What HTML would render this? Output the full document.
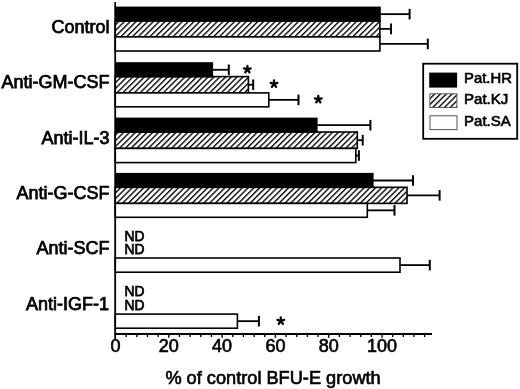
<!DOCTYPE html><html><head><meta charset="utf-8"><style>
html,body{margin:0;padding:0;background:#fff;width:520px;height:389px;overflow:hidden}
svg{display:block;filter:grayscale(1)}
text{font-family:"Liberation Sans",sans-serif;fill:#000;stroke:#000}
</style></head><body>
<svg width="520" height="389" viewBox="0 0 520 389">
<defs><pattern id="h" patternUnits="userSpaceOnUse" width="4.1" height="10" patternTransform="rotate(45)"><rect x="0" y="0" width="1.35" height="10" fill="#000"/></pattern></defs>
<rect width="520" height="389" fill="#fff"/>
<rect x="115.20" y="6.60" width="265.60" height="15.10" fill="#000"/>
<line x1="380.00" y1="14.15" x2="409.60" y2="14.15" stroke="#000" stroke-width="1.8"/>
<line x1="409.60" y1="8.85" x2="409.60" y2="19.45" stroke="#000" stroke-width="2"/>
<rect x="115.20" y="20.90" width="264.70" height="16.00" fill="url(#h)" stroke="#000" stroke-width="1.6"/>
<line x1="379.90" y1="28.90" x2="391.00" y2="28.90" stroke="#000" stroke-width="1.8"/>
<line x1="391.00" y1="23.60" x2="391.00" y2="34.20" stroke="#000" stroke-width="2"/>
<rect x="115.20" y="36.90" width="264.70" height="14.10" fill="#fff" stroke="#000" stroke-width="1.6"/>
<line x1="379.90" y1="43.95" x2="427.80" y2="43.95" stroke="#000" stroke-width="1.8"/>
<line x1="427.80" y1="38.65" x2="427.80" y2="49.25" stroke="#000" stroke-width="2"/>
<rect x="115.20" y="62.20" width="97.90" height="15.20" fill="#000"/>
<line x1="212.30" y1="69.80" x2="228.80" y2="69.80" stroke="#000" stroke-width="1.8"/>
<line x1="228.80" y1="64.50" x2="228.80" y2="75.10" stroke="#000" stroke-width="2"/>
<rect x="115.20" y="76.60" width="133.20" height="16.30" fill="url(#h)" stroke="#000" stroke-width="1.6"/>
<line x1="248.40" y1="84.75" x2="253.20" y2="84.75" stroke="#000" stroke-width="1.8"/>
<line x1="253.20" y1="79.45" x2="253.20" y2="90.05" stroke="#000" stroke-width="2"/>
<rect x="115.20" y="92.90" width="153.60" height="13.90" fill="#fff" stroke="#000" stroke-width="1.6"/>
<line x1="268.80" y1="99.85" x2="298.50" y2="99.85" stroke="#000" stroke-width="1.8"/>
<line x1="298.50" y1="94.55" x2="298.50" y2="105.15" stroke="#000" stroke-width="2"/>
<rect x="115.20" y="117.60" width="202.40" height="15.20" fill="#000"/>
<line x1="316.80" y1="125.20" x2="370.40" y2="125.20" stroke="#000" stroke-width="1.8"/>
<line x1="370.40" y1="119.90" x2="370.40" y2="130.50" stroke="#000" stroke-width="2"/>
<rect x="115.20" y="132.00" width="242.10" height="16.40" fill="url(#h)" stroke="#000" stroke-width="1.6"/>
<line x1="357.30" y1="140.20" x2="362.70" y2="140.20" stroke="#000" stroke-width="1.8"/>
<line x1="362.70" y1="134.90" x2="362.70" y2="145.50" stroke="#000" stroke-width="2"/>
<rect x="115.20" y="148.40" width="240.60" height="14.20" fill="#fff" stroke="#000" stroke-width="1.6"/>
<line x1="355.80" y1="155.50" x2="358.90" y2="155.50" stroke="#000" stroke-width="1.8"/>
<line x1="358.90" y1="150.20" x2="358.90" y2="160.80" stroke="#000" stroke-width="2"/>
<rect x="115.20" y="172.90" width="258.40" height="15.20" fill="#000"/>
<line x1="372.80" y1="180.50" x2="413.00" y2="180.50" stroke="#000" stroke-width="1.8"/>
<line x1="413.00" y1="175.20" x2="413.00" y2="185.80" stroke="#000" stroke-width="2"/>
<rect x="115.20" y="187.30" width="291.80" height="16.10" fill="url(#h)" stroke="#000" stroke-width="1.6"/>
<line x1="407.00" y1="195.35" x2="439.60" y2="195.35" stroke="#000" stroke-width="1.8"/>
<line x1="439.60" y1="190.05" x2="439.60" y2="200.65" stroke="#000" stroke-width="2"/>
<rect x="115.20" y="203.40" width="252.10" height="13.90" fill="#fff" stroke="#000" stroke-width="1.6"/>
<line x1="367.30" y1="210.35" x2="394.50" y2="210.35" stroke="#000" stroke-width="1.8"/>
<line x1="394.50" y1="205.05" x2="394.50" y2="215.65" stroke="#000" stroke-width="2"/>
<rect x="115.20" y="258.00" width="284.80" height="14.20" fill="#fff" stroke="#000" stroke-width="1.6"/>
<line x1="400.00" y1="265.10" x2="429.80" y2="265.10" stroke="#000" stroke-width="1.8"/>
<line x1="429.80" y1="259.80" x2="429.80" y2="270.40" stroke="#000" stroke-width="2"/>
<rect x="115.20" y="314.10" width="122.20" height="14.10" fill="#fff" stroke="#000" stroke-width="1.6"/>
<line x1="237.40" y1="321.15" x2="258.90" y2="321.15" stroke="#000" stroke-width="1.8"/>
<line x1="258.90" y1="315.85" x2="258.90" y2="326.45" stroke="#000" stroke-width="2"/>
<line x1="115.2" y1="2" x2="115.2" y2="339" stroke="#000" stroke-width="1.8"/>
<line x1="114.4" y1="334.0" x2="432" y2="334.0" stroke="#000" stroke-width="1.8"/>
<line x1="126.16" y1="334.0" x2="126.16" y2="337.00" stroke="#000" stroke-width="1.4"/>
<line x1="136.82" y1="334.0" x2="136.82" y2="337.00" stroke="#000" stroke-width="1.4"/>
<line x1="147.48" y1="334.0" x2="147.48" y2="337.00" stroke="#000" stroke-width="1.4"/>
<line x1="158.14" y1="334.0" x2="158.14" y2="337.00" stroke="#000" stroke-width="1.4"/>
<line x1="168.80" y1="334.0" x2="168.80" y2="337.80" stroke="#000" stroke-width="1.4"/>
<line x1="179.46" y1="334.0" x2="179.46" y2="337.00" stroke="#000" stroke-width="1.4"/>
<line x1="190.12" y1="334.0" x2="190.12" y2="337.00" stroke="#000" stroke-width="1.4"/>
<line x1="200.78" y1="334.0" x2="200.78" y2="337.00" stroke="#000" stroke-width="1.4"/>
<line x1="211.44" y1="334.0" x2="211.44" y2="337.00" stroke="#000" stroke-width="1.4"/>
<line x1="222.10" y1="334.0" x2="222.10" y2="337.80" stroke="#000" stroke-width="1.4"/>
<line x1="232.76" y1="334.0" x2="232.76" y2="337.00" stroke="#000" stroke-width="1.4"/>
<line x1="243.42" y1="334.0" x2="243.42" y2="337.00" stroke="#000" stroke-width="1.4"/>
<line x1="254.08" y1="334.0" x2="254.08" y2="337.00" stroke="#000" stroke-width="1.4"/>
<line x1="264.74" y1="334.0" x2="264.74" y2="337.00" stroke="#000" stroke-width="1.4"/>
<line x1="275.40" y1="334.0" x2="275.40" y2="337.80" stroke="#000" stroke-width="1.4"/>
<line x1="286.06" y1="334.0" x2="286.06" y2="337.00" stroke="#000" stroke-width="1.4"/>
<line x1="296.72" y1="334.0" x2="296.72" y2="337.00" stroke="#000" stroke-width="1.4"/>
<line x1="307.38" y1="334.0" x2="307.38" y2="337.00" stroke="#000" stroke-width="1.4"/>
<line x1="318.04" y1="334.0" x2="318.04" y2="337.00" stroke="#000" stroke-width="1.4"/>
<line x1="328.70" y1="334.0" x2="328.70" y2="337.80" stroke="#000" stroke-width="1.4"/>
<line x1="339.36" y1="334.0" x2="339.36" y2="337.00" stroke="#000" stroke-width="1.4"/>
<line x1="350.02" y1="334.0" x2="350.02" y2="337.00" stroke="#000" stroke-width="1.4"/>
<line x1="360.68" y1="334.0" x2="360.68" y2="337.00" stroke="#000" stroke-width="1.4"/>
<line x1="371.34" y1="334.0" x2="371.34" y2="337.00" stroke="#000" stroke-width="1.4"/>
<line x1="382.00" y1="334.0" x2="382.00" y2="337.80" stroke="#000" stroke-width="1.4"/>
<line x1="392.66" y1="334.0" x2="392.66" y2="337.00" stroke="#000" stroke-width="1.4"/>
<line x1="403.32" y1="334.0" x2="403.32" y2="337.00" stroke="#000" stroke-width="1.4"/>
<line x1="413.98" y1="334.0" x2="413.98" y2="337.00" stroke="#000" stroke-width="1.4"/>
<line x1="424.64" y1="334.0" x2="424.64" y2="337.00" stroke="#000" stroke-width="1.4"/>
<text x="115.50" y="352.4" font-size="18" stroke-width="0.65" text-anchor="middle">0</text>
<text x="168.80" y="352.4" font-size="18" stroke-width="0.65" text-anchor="middle">20</text>
<text x="222.10" y="352.4" font-size="18" stroke-width="0.65" text-anchor="middle">40</text>
<text x="275.40" y="352.4" font-size="18" stroke-width="0.65" text-anchor="middle">60</text>
<text x="328.70" y="352.4" font-size="18" stroke-width="0.65" text-anchor="middle">80</text>
<text x="382.00" y="352.4" font-size="18" stroke-width="0.65" text-anchor="middle">100</text>
<text x="109.6" y="32.6" font-size="18" text-anchor="end" stroke-width="0.75">Control</text>
<text x="109.6" y="87.9" font-size="18" text-anchor="end" stroke-width="0.75">Anti-GM-CSF</text>
<text x="109.6" y="144.0" font-size="18" text-anchor="end" stroke-width="0.75">Anti-IL-3</text>
<text x="109.6" y="198.8" font-size="18" text-anchor="end" stroke-width="0.75">Anti-G-CSF</text>
<text x="109.6" y="253.8" font-size="18" text-anchor="end" stroke-width="0.75">Anti-SCF</text>
<text x="109.0" y="309.8" font-size="18" text-anchor="end" stroke-width="0.75">Anti-IGF-1</text>
<text x="124.6" y="240.80" font-size="15" stroke-width="0.75" textLength="20.0" lengthAdjust="spacingAndGlyphs">ND</text>
<text x="124.6" y="254.40" font-size="15" stroke-width="0.75" textLength="20.0" lengthAdjust="spacingAndGlyphs">ND</text>
<text x="124.6" y="296.30" font-size="15" stroke-width="0.75" textLength="20.0" lengthAdjust="spacingAndGlyphs">ND</text>
<text x="124.6" y="309.90" font-size="15" stroke-width="0.75" textLength="20.0" lengthAdjust="spacingAndGlyphs">ND</text>
<path d="M247.40,69.40L247.40,65.90M247.40,69.40L250.73,68.32M247.40,69.40L249.46,72.23M247.40,69.40L245.34,72.23M247.40,69.40L244.07,68.32" stroke="#000" stroke-width="2.3" stroke-linecap="round"/>
<path d="M274.00,84.00L274.00,80.50M274.00,84.00L277.33,82.92M274.00,84.00L276.06,86.83M274.00,84.00L271.94,86.83M274.00,84.00L270.67,82.92" stroke="#000" stroke-width="2.3" stroke-linecap="round"/>
<path d="M318.30,99.40L318.30,95.90M318.30,99.40L321.63,98.32M318.30,99.40L320.36,102.23M318.30,99.40L316.24,102.23M318.30,99.40L314.97,98.32" stroke="#000" stroke-width="2.3" stroke-linecap="round"/>
<path d="M280.80,321.00L280.80,317.50M280.80,321.00L284.13,319.92M280.80,321.00L282.86,323.83M280.80,321.00L278.74,323.83M280.80,321.00L277.47,319.92" stroke="#000" stroke-width="2.3" stroke-linecap="round"/>
<text x="165.4" y="383.7" font-size="18.2" stroke-width="0.65">% of control BFU-E growth</text>
<rect x="423.2" y="63.7" width="94" height="75.1" fill="#fff" stroke="#000" stroke-width="1.8"/>
<rect x="429.2" y="72.6" width="27.9" height="15" fill="#000"/>
<rect x="429.9" y="93.8" width="27" height="13.7" fill="url(#h)" stroke="#555" stroke-width="1"/>
<rect x="430" y="115.8" width="27" height="13.8" fill="#fff" stroke="#555" stroke-width="1"/>
<text x="464" y="82.9" font-size="14.2" stroke-width="0.6" textLength="47.9" lengthAdjust="spacingAndGlyphs">Pat.HR</text>
<text x="464" y="104.2" font-size="14.2" stroke-width="0.6" textLength="44.4" lengthAdjust="spacingAndGlyphs">Pat.KJ</text>
<text x="464" y="125.7" font-size="14.2" stroke-width="0.6" textLength="46.8" lengthAdjust="spacingAndGlyphs">Pat.SA</text>
</svg></body></html>
